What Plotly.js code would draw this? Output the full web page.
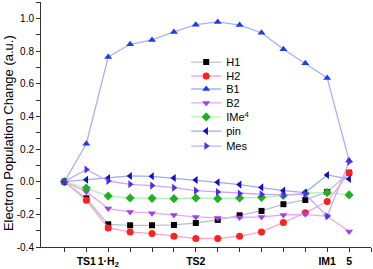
<!DOCTYPE html>
<html><head><meta charset="utf-8">
<script src="https://cdn.plot.ly/plotly-3.0.1.min.js"></script>
<style>html,body{margin:0;padding:0;background:#fff}#c{width:373px;height:269px}</style>
</head><body><div id="c"></div>
<script>
const xIdx = [0,1,2,3,4,5,6,7,8,9,10,11,12,13];
const tickPos = [0,1,2,3,4,5,6,7,8,9,10,11,12,13,14];
const tickLabels = ["","TS1","1·H<sub>2</sub>","","","","TS2","","","","","","IM1","5",""];
const H1 = [0,-0.102,-0.261,-0.267,-0.267,-0.265,-0.253,-0.234,-0.206,-0.179,-0.138,-0.112,-0.063,0.055];
const H2 = [0,-0.114,-0.283,-0.308,-0.318,-0.334,-0.348,-0.348,-0.334,-0.308,-0.250,-0.191,-0.122,0.053];
const B1 = [0,0.232,0.764,0.841,0.868,0.917,0.961,0.978,0.959,0.912,0.811,0.725,0.635,0.130];
const B2 = [0,-0.061,-0.165,-0.185,-0.193,-0.204,-0.216,-0.222,-0.220,-0.216,-0.204,-0.200,-0.212,-0.305];
const IMe4 = [0,-0.039,-0.088,-0.100,-0.102,-0.104,-0.100,-0.104,-0.100,-0.096,-0.084,-0.071,-0.067,-0.081];
const pin = [0,0.012,0.022,0.035,0.033,0.022,0.010,-0.004,-0.018,-0.035,-0.055,-0.067,0.041,0.016];
const Mes = [0,0.075,0.004,-0.016,-0.024,-0.037,-0.055,-0.063,-0.073,-0.077,-0.081,-0.077,-0.212,0.122];
const names = ["H1","H2","B1","B2","IMe<sup>4</sup>","pin","Mes"];
const yTitle = "Electron Population Change (a.u.)";

const series = [H1,H2,B1,B2,IMe4,pin,Mes];
const lineC = ["#b4c4d4","#f8a8c8","#a8b0f8","#e4a8f0","#b4f0b4","#a0aaf0","#cca8f4"];
const markC = ["#000000","#ff2020","#1c3cf0","#a040f0","#20b020","#1010c0","#4a30e8"];
const syms = ["square","circle","triangle-up","triangle-down","diamond","triangle-left","triangle-right"];
const legY = [0.755,0.698,0.645,0.588,0.531,0.473,0.412];

const data = series.map((s,i)=>({
  x:xIdx, y:s, name:names[i], type:"scatter", mode:"lines+markers",
  legend: i===0 ? "legend" : "legend"+(i+1),
  line:{color:lineC[i], width:1.3},
  marker:{color:markC[i], symbol:syms[i], size:syms[i]==="square"?6:7}
}));

const layout = {
  width:373, height:269,
  margin:{l:41,r:2,t:2,b:22},
  paper_bgcolor:"#fff", plot_bgcolor:"#fff",
  font:{family:"Liberation Sans, Arial, sans-serif", color:"#000"},
  showlegend:true,
  xaxis:{range:[-1.07,14], tickvals:tickPos, ticktext:tickLabels, tickangle:0, ticks:"outside", ticklen:4, tickcolor:"#333",
    showline:true, linecolor:"#333", linewidth:1, showgrid:false, zeroline:false,
    tickfont:{size:10.5, weight:"bold"}},
  yaxis:{range:[-0.4,1.1], tickvals:[-0.4,-0.2,0,0.2,0.4,0.6,0.8,1.0], ticktext:["-0.4","-0.2","0.0","0.2","0.4","0.6","0.8","1.0"],
    ticks:"outside", ticklen:4, tickcolor:"#333", showline:true, linecolor:"#333", linewidth:1, showgrid:false, zeroline:false,
    minor:{tickvals:[-0.3,-0.1,0.1,0.3,0.5,0.7,0.9,1.1], ticks:"outside", ticklen:4, tickcolor:"#333", showgrid:false},
    tickfont:{size:10}},
  annotations:[{text:yTitle, xref:"paper", yref:"paper", x:-0.1, y:0.465, xanchor:"center", yanchor:"middle",
    textangle:-90, showarrow:false, font:{size:13}}]
};
legY.forEach((yy,i)=>{
  const key = i===0 ? "legend" : "legend"+(i+1);
  layout[key] = {x:0.44, y:yy, xanchor:"left", yanchor:"middle", font:{size:11}, bgcolor:"rgba(0,0,0,0)", borderwidth:0, itemwidth:30};
});
Plotly.newPlot("c", data, layout, {displayModeBar:false, staticPlot:true});
</script></body></html>
